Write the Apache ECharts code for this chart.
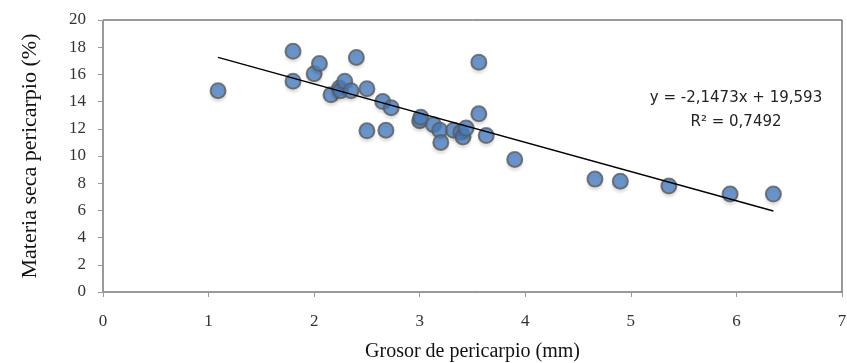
<!DOCTYPE html>
<html>
<head>
<meta charset="utf-8">
<script src="https://cdn.jsdelivr.net/npm/echarts@6/dist/echarts.min.js"></script>
<style>
  html, body { margin: 0; padding: 0; background: #fff; }
  #chart { width: 847px; height: 363px; }
</style>
</head>
<body>
<div id="chart"></div>
<script>
// grosor (mm) vs materia seca (%)
var grosor = [1.09, 1.80, 1.80, 2.00, 2.05, 2.16, 2.24, 2.25, 2.29, 2.35, 2.40, 2.50, 2.50,
  2.65, 2.68, 2.73, 3.00, 3.01, 3.13, 3.19, 3.20, 3.32, 3.39, 3.41, 3.44, 3.56, 3.56, 3.63,
  3.90, 4.66, 4.90, 5.36, 5.94, 6.35];
var materiaSeca = [14.8, 17.7, 15.5, 16.05, 16.8, 14.5, 15.0, 14.8, 15.5, 14.8, 17.25, 14.95, 11.85,
  14.0, 11.9, 13.55, 12.6, 12.85, 12.3, 11.9, 11.0, 11.9, 11.75, 11.4, 12.05, 13.1, 16.9, 11.5,
  9.75, 8.3, 8.15, 7.8, 7.2, 7.2];
var slope = -2.1473;
var intercept = 19.593;
var trendRange = [1.09, 6.35];
var xTicks = [0, 1, 2, 3, 4, 5, 6, 7];
var yTicks = [0, 2, 4, 6, 8, 10, 12, 14, 16, 18, 20];

var puntos = grosor.map(function (g, i) { return [g, materiaSeca[i]]; });
var tendencia = trendRange.map(function (x) { return [x, slope * x + intercept]; });

var myChart = echarts.init(document.getElementById('chart'));
myChart.setOption({
  animation: false,
  grid: {
    left: 103, right: 5, top: 20, bottom: 71,
    outerBoundsMode: 'none',
    show: true, borderColor: '#333', borderWidth: 1
  },
  xAxis: {
    type: 'value', min: xTicks[0], max: xTicks[xTicks.length - 1], interval: 1,
    name: 'Grosor de pericarpio (mm)', nameLocation: 'middle', nameGap: 50,
    nameTextStyle: { fontFamily: 'Liberation Serif', fontSize: 20, color: '#111' },
    axisLine: { lineStyle: { color: '#999', width: 1 } },
    axisTick: { show: true, length: 5, lineStyle: { color: '#999' } },
    axisLabel: { fontFamily: 'Liberation Serif', fontSize: 17, color: '#333', margin: 21 },
    splitLine: { show: false }
  },
  yAxis: {
    type: 'value', min: yTicks[0], max: yTicks[yTicks.length - 1], interval: 2,
    name: 'Materia seca pericarpio (%)', nameLocation: 'middle', nameGap: 62,
    nameTextStyle: { fontFamily: 'Liberation Serif', fontSize: 22, color: '#111' },
    axisLine: { show: true, lineStyle: { color: '#999', width: 1 } },
    axisTick: { show: true, length: 5, lineStyle: { color: '#999' } },
    axisLabel: { fontFamily: 'Liberation Serif', fontSize: 17, color: '#333', margin: 17 },
    splitLine: { show: false }
  },
  series: [
    {
      type: 'line',
      data: tendencia,
      symbol: 'none',
      lineStyle: { color: '#000', width: 1.5 },
      z: 3
    },
    {
      type: 'scatter',
      data: puntos,
      symbolSize: 15,
      itemStyle: {
        color: '#4a80c4', borderColor: '#5c5c5c', borderWidth: 2,
        shadowColor: 'rgba(0,0,0,0.12)', shadowBlur: 3, shadowOffsetY: 3
      },
      z: 2
    }
  ],
  graphic: [
    {
      type: 'text', x: 736, y: 86,
      style: {
        text: 'y = -2,1473x + 19,593\nR² = 0,7492',
        font: '15px "DejaVu Sans", sans-serif', fill: '#222', lineHeight: 24,
        align: 'center'
      }
    }
  ]
});
</script>
</body>
</html>
